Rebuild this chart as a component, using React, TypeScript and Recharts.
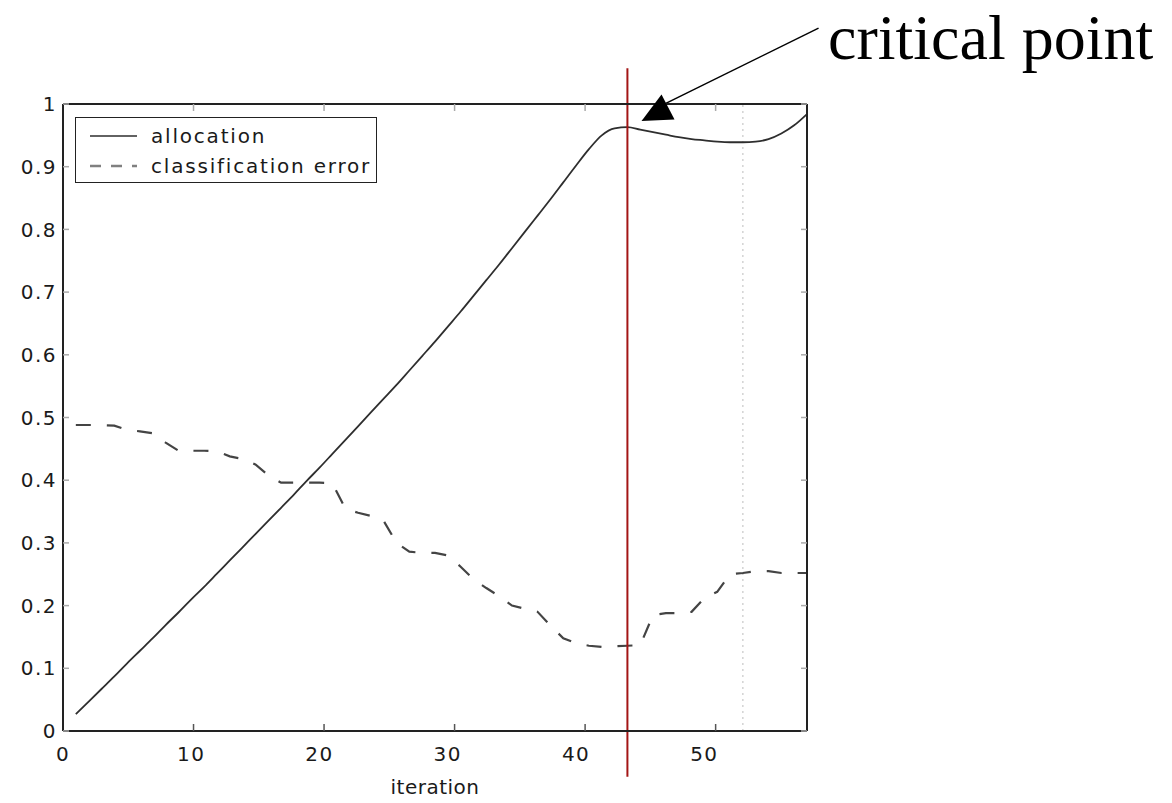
import React from 'react';
import { LineChart, Line, XAxis, YAxis, ReferenceLine, ReferenceDot, Legend } from 'recharts';

const iterations = [
  1, 2, 3, 4, 5, 6, 7, 8, 9, 10, 11, 12, 13, 14, 15, 16, 17, 18, 19, 20,
  21, 22, 23, 24, 25, 26, 27, 28, 29, 30, 31, 32, 33, 34, 35, 36, 37, 38, 39, 40,
  41, 42, 43, 44, 45, 46, 47, 48, 49, 50, 51, 52, 53, 54, 55, 56, 57, 58,
];

const allocation = [
  0.027, 0.047, 0.067, 0.087, 0.108, 0.128, 0.148, 0.169, 0.189, 0.21,
  0.23, 0.251, 0.272, 0.293, 0.314, 0.335, 0.356, 0.377, 0.399, 0.42,
  0.442, 0.464, 0.486, 0.508, 0.53, 0.552, 0.575, 0.598, 0.621, 0.645,
  0.669, 0.694, 0.719, 0.744, 0.77, 0.796, 0.822, 0.848, 0.875, 0.902,
  0.928, 0.95, 0.961, 0.963, 0.959, 0.955, 0.951, 0.947, 0.944, 0.942,
  0.94, 0.939, 0.939, 0.94, 0.944, 0.953, 0.966, 0.984,
];

const classificationError = [
  0.488, 0.488, 0.488, 0.487, 0.48, 0.478, 0.475, 0.46, 0.447, 0.447,
  0.447, 0.446, 0.438, 0.434, 0.425, 0.408, 0.396, 0.396, 0.396, 0.396,
  0.395, 0.355, 0.348, 0.343, 0.335, 0.3, 0.286, 0.284, 0.284, 0.28,
  0.262, 0.242, 0.228, 0.215, 0.2, 0.195, 0.19, 0.168, 0.148, 0.14,
  0.136, 0.134, 0.135, 0.136, 0.137, 0.185, 0.188, 0.188, 0.19, 0.212,
  0.222, 0.25, 0.252, 0.255, 0.255, 0.252, 0.252, 0.252,
];

const xTicks = [0, 10, 20, 30, 40, 50];
const yTicks = [0, 0.1, 0.2, 0.3, 0.4, 0.5, 0.6, 0.7, 0.8, 0.9, 1];
const yTickLabels = ['0', '0.1', '0.2', '0.3', '0.4', '0.5', '0.6', '0.7', '0.8', '0.9', '1'];

const seriesNames = ['allocation', 'classification error'];
const xAxisTitle = 'iteration';
const annotationText = 'critical point';
const criticalIteration = 44;
const markerIteration = 53;

const data = iterations.map((it, i) => ({
  iteration: it,
  allocation: allocation[i],
  classificationError: classificationError[i],
}));

const SANS = '"DejaVu Sans", "Liberation Sans", Arial, sans-serif';
const SERIF = '"Liberation Serif", "Times New Roman", serif';

const SOLID_COLOR = '#2e2e2e';
const DASH_COLOR = '#444444';
const DASH = '15 16';

const legendItems = [
  { name: seriesNames[0], color: SOLID_COLOR, dash: undefined as string | undefined },
  { name: seriesNames[1], color: '#808080', dash: '11 10' },
];

const renderLegend = () => (
  <div
    style={{
      width: 302,
      height: 66,
      boxSizing: 'border-box',
      border: '1.5px solid #222',
      background: '#fff',
      position: 'relative',
    }}
  >
    <svg width={300} height={63} style={{ position: 'absolute', left: 0, top: 0 }}>
      {legendItems.map((item, i) => (
        <g key={item.name}>
          <line
            x1={14}
            x2={61}
            y1={18 + i * 30}
            y2={18 + i * 30}
            stroke={item.color}
            strokeWidth={item.dash ? 2.5 : 1.5}
            strokeDasharray={item.dash}
          />
          <text
            x={75}
            y={18 + i * 30}
            dy="0.35em"
            fontFamily={SANS}
            fontSize={20}
            letterSpacing={1.8}
            fill="#1a1a1a"
          >
            {item.name}
          </text>
        </g>
      ))}
    </svg>
  </div>
);

const ArrowHead = (props: any) => {
  const { cx, cy } = props;
  const pts = `${cx},${cy} ${cx + 20},${cy - 26.5} ${cx + 33},${cy - 1.5}`;
  return <polygon points={pts} fill="#000" />;
};

const tickStyle = { fontSize: 20, fill: '#1a1a1a', fontFamily: SANS, letterSpacing: 1.5 };

export default function App() {
  return (
    <div style={{ width: 1164, height: 795, position: 'relative', background: '#fff' }}>
      <LineChart
        width={1164}
        height={795}
        data={data}
        margin={{ top: 96, right: 365, bottom: 12, left: 0 }}
      >
        <XAxis
          xAxisId="x"
          dataKey="iteration"
          type="number"
          domain={[0, 58]}
          allowDataOverflow
          ticks={xTicks}
          tickLine={false}
          tickSize={0}
          tickMargin={16}
          axisLine={{ stroke: '#222', strokeWidth: 2 }}
          tick={tickStyle}
          height={60}
          label={{
            value: xAxisTitle,
            position: 'insideBottom',
            offset: -3,
            style: { fontSize: 20, fill: '#1a1a1a', fontFamily: SANS, letterSpacing: 0.5 },
          }}
        />
        <XAxis
          xAxisId="xb"
          type="number"
          domain={[0, 58]}
          allowDataOverflow
          ticks={xTicks}
          orientation="bottom"
          mirror
          axisLine={false}
          tickSize={7}
          tickLine={{ stroke: '#555', strokeWidth: 1.5 }}
          tickFormatter={() => ''}
        />
        <XAxis
          xAxisId="xt"
          type="number"
          domain={[0, 58]}
          allowDataOverflow
          ticks={xTicks}
          orientation="top"
          mirror
          axisLine={{ stroke: '#222', strokeWidth: 2 }}
          tickSize={7}
          tickLine={{ stroke: '#aaa', strokeWidth: 1.5 }}
          tickFormatter={() => ''}
        />
        <YAxis
          yAxisId="y"
          type="number"
          domain={[0, 1]}
          allowDataOverflow
          ticks={yTicks}
          tickLine={false}
          tickSize={0}
          tickMargin={6}
          width={55}
          axisLine={{ stroke: '#222', strokeWidth: 2 }}
          tick={tickStyle}
          tickFormatter={(v: number) => yTickLabels[yTicks.indexOf(v)] ?? String(v)}
        />
        <YAxis
          yAxisId="yl"
          type="number"
          domain={[0, 1]}
          allowDataOverflow
          ticks={yTicks}
          orientation="left"
          mirror
          axisLine={false}
          tickSize={6}
          tickLine={{ stroke: '#aaa', strokeWidth: 1.5 }}
          tickFormatter={() => ''}
        />
        <YAxis
          yAxisId="yr"
          type="number"
          domain={[0, 1]}
          allowDataOverflow
          ticks={yTicks}
          orientation="right"
          mirror
          axisLine={{ stroke: '#222', strokeWidth: 2 }}
          tickSize={6}
          tickLine={{ stroke: '#aaa', strokeWidth: 1.5 }}
          tickFormatter={() => ''}
        />
        <ReferenceLine
          xAxisId="x"
          yAxisId="y"
          x={markerIteration}
          stroke="#c8c8c8"
          strokeWidth={1.2}
          strokeDasharray="2 4"
        />
        <Line
          xAxisId="x"
          yAxisId="y"
          name={seriesNames[0]}
          dataKey="allocation"
          type="monotone"
          stroke={SOLID_COLOR}
          strokeWidth={1.8}
          dot={false}
          isAnimationActive={false}
        />
        <Line
          xAxisId="x"
          yAxisId="y"
          name={seriesNames[1]}
          dataKey="classificationError"
          type="linear"
          stroke={DASH_COLOR}
          strokeWidth={2.2}
          strokeDasharray={DASH}
          dot={false}
          isAnimationActive={false}
        />
        <ReferenceLine
          xAxisId="x"
          yAxisId="y"
          segment={[
            { x: criticalIteration, y: -0.073 },
            { x: criticalIteration, y: 1.057 },
          ]}
          stroke="#a31515"
          strokeWidth={2}
          ifOverflow="visible"
        />
        <ReferenceLine
          xAxisId="x"
          yAxisId="y"
          segment={[
            { x: 58.9, y: 1.121 },
            { x: 46.6, y: 0.997 },
          ]}
          stroke="#000"
          strokeWidth={1.5}
          ifOverflow="visible"
        />
        <ReferenceDot
          xAxisId="x"
          yAxisId="y"
          x={45.1}
          y={0.973}
          r={1}
          ifOverflow="visible"
          shape={ArrowHead}
        />
        <Legend
          layout="horizontal"
          verticalAlign="middle"
          align="center"
          content={renderLegend}
          wrapperStyle={{ position: 'absolute', left: 67, top: 109, width: 302, height: 66 }}
        />
      </LineChart>
      <div
        style={{
          position: 'absolute',
          left: 820,
          top: -2,
          fontFamily: SERIF,
          fontSize: 64,
          lineHeight: '64px',
          whiteSpace: 'nowrap',
          color: '#000',
        }}
      >
        {annotationText}
      </div>
    </div>
  );
}
